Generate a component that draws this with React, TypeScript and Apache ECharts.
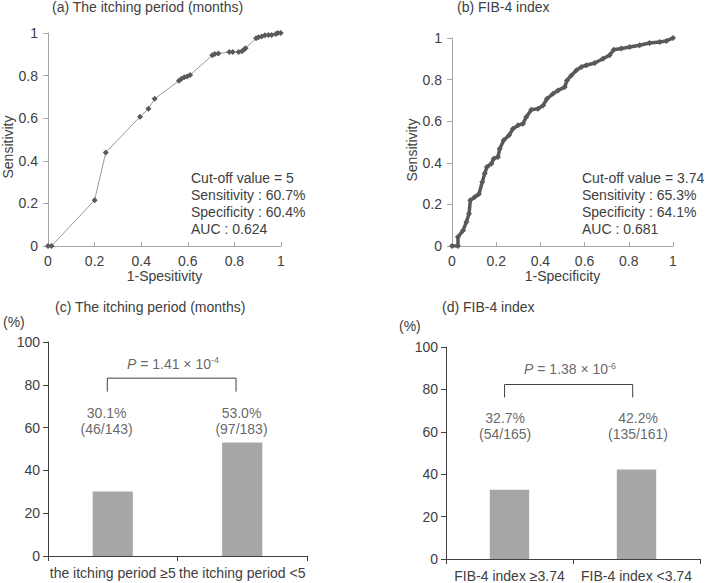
import React, { useEffect, useRef } from "react";
import * as echarts from "echarts";

// ---- Data ----
const rocAFpr = [0, 0.015, 0.2, 0.248, 0.395, 0.431, 0.458, 0.562, 0.573, 0.585, 0.597, 0.61, 0.705, 0.716, 0.731, 0.778, 0.793, 0.818, 0.832, 0.842, 0.848, 0.893, 0.903, 0.917, 0.931, 0.946, 0.96, 0.978, 0.986, 0.999];
const rocATpr = [0, 0, 0.215, 0.439, 0.607, 0.644, 0.691, 0.776, 0.785, 0.792, 0.796, 0.803, 0.895, 0.901, 0.904, 0.911, 0.911, 0.911, 0.914, 0.922, 0.928, 0.975, 0.98, 0.984, 0.989, 0.991, 0.991, 0.995, 1, 1];

const rocBFpr = [0, 0.027, 0.027, 0.05, 0.065, 0.077, 0.083, 0.103, 0.122, 0.137, 0.148, 0.158, 0.178, 0.189, 0.208, 0.216, 0.234, 0.258, 0.276, 0.299, 0.321, 0.336, 0.359, 0.389, 0.412, 0.43, 0.457, 0.48, 0.51, 0.52, 0.54, 0.563, 0.585, 0.608, 0.646, 0.683, 0.713, 0.732, 0.766, 0.804, 0.849, 0.894, 0.94, 0.97, 1];
const rocBTpr = [0, 0, 0.043, 0.075, 0.115, 0.155, 0.22, 0.235, 0.25, 0.308, 0.348, 0.38, 0.396, 0.42, 0.428, 0.468, 0.508, 0.532, 0.564, 0.58, 0.588, 0.62, 0.655, 0.66, 0.676, 0.708, 0.732, 0.748, 0.764, 0.796, 0.82, 0.845, 0.861, 0.869, 0.88, 0.9, 0.917, 0.944, 0.949, 0.957, 0.965, 0.976, 0.981, 0.986, 1];

const rocAStats = ["Cut-off value = 5", "Sensitivity : 60.7%", "Specificity : 60.4%", "AUC : 0.624"];
const rocBStats = ["Cut-off value = 3.74", "Sensitivity : 65.3%", "Specificity : 64.1%", "AUC : 0.681"];

const itchCategories = ["the itching period \u22655", "the itching period <5"];
const itchRates = [30.1, 53.0];
const itchCounts = ["46/143", "97/183"];
const itchP = ["1.41", "-4"];

const fibCategories = ["FIB-4 index \u22653.74", "FIB-4 index <3.74"];
const fibRates = [32.7, 42.2];
const fibCounts = ["54/165", "135/161"];
const fibP = ["1.38", "-6"];

const titles = ["(a) The itching period (months)", "(b) FIB-4 index", "(c) The itching period (months)", "(d) FIB-4 index"];

// ---- Styles ----
const TXT = "#404040";
const FONT = "'Liberation Sans', Arial, sans-serif";
const LIGHT_AXIS = "#a6a6a6";
const BAR = "#a6a6a6";

function zip(a: number[], b: number[]) {
  return a.map((v, i) => [v, b[i]]);
}

function rocX(gridIndex: number, name: string) {
  return {
    type: "value", gridIndex, min: 0, max: 1, interval: 0.2,
    name, nameLocation: "middle", nameGap: 21,
    nameTextStyle: { color: TXT, fontSize: 14, fontFamily: FONT },
    axisLine: { show: true, lineStyle: { color: LIGHT_AXIS, width: 1 } },
    axisTick: { show: true, inside: true, length: 4, lineStyle: { color: LIGHT_AXIS } },
    axisLabel: { color: TXT, fontSize: 14, margin: 8, fontFamily: FONT },
    splitLine: { show: false },
  };
}
function rocY(gridIndex: number) {
  return {
    type: "value", gridIndex, min: 0, max: 1, interval: 0.2,
    axisLine: { show: true, lineStyle: { color: LIGHT_AXIS, width: 1 } },
    axisTick: { show: true, inside: false, length: 5, lineStyle: { color: LIGHT_AXIS } },
    axisLabel: { color: TXT, fontSize: 14, margin: 10, fontFamily: FONT },
    splitLine: { show: false },
  };
}
function catX(gridIndex: number, data: string[]) {
  return {
    type: "category", gridIndex, data,
    axisLine: { show: true, lineStyle: { color: TXT, width: 1 } },
    axisTick: { show: true, length: 5, lineStyle: { color: TXT } },
    axisLabel: { color: TXT, fontSize: 14, margin: 10, interval: 0, fontFamily: FONT },
    splitLine: { show: false },
  };
}
function hiddenX(gridIndex: number) {
  return { type: "value", gridIndex, min: 0, max: 2, show: false, splitLine: { show: false } };
}
function pctY(gridIndex: number) {
  return {
    type: "value", gridIndex, min: 0, max: 100, interval: 20,
    axisLine: { show: true, lineStyle: { color: TXT, width: 1 } },
    axisTick: { show: true, length: 5, lineStyle: { color: TXT } },
    axisLabel: { color: TXT, fontSize: 14, margin: 8, fontFamily: FONT },
    splitLine: { show: false },
  };
}

function bracket(xAxisIndex: number, yAxisIndex: number, x0: number, x1: number, low: number, high: number) {
  return {
    type: "line", xAxisIndex, yAxisIndex, symbol: "none", silent: true,
    lineStyle: { color: TXT, width: 1 },
    data: [[x0, low], [x0, high], [x1, high], [x1, low]],
  };
}

function pctLabels(xAxisIndex: number, yAxisIndex: number, xs: number[], y: number, rates: number[], counts: string[]) {
  return {
    type: "scatter", xAxisIndex, yAxisIndex, symbolSize: 1, silent: true,
    itemStyle: { color: "rgba(0,0,0,0)" },
    label: {
      show: true, position: "inside", color: TXT, fontSize: 14, lineHeight: 16, fontFamily: FONT, align: "center",
      formatter: (p: any) => `${rates[p.dataIndex].toFixed(1)}%\n(${counts[p.dataIndex]})`,
    },
    data: xs.map((x) => [x, y]),
  };
}

function pLabel(xAxisIndex: number, yAxisIndex: number, x: number, y: number, pv: string[]) {
  return {
    type: "scatter", xAxisIndex, yAxisIndex, symbolSize: 1, silent: true,
    itemStyle: { color: "rgba(0,0,0,0)" },
    label: {
      show: true, position: "inside", color: TXT, fontSize: 14, fontFamily: FONT,
      formatter: `{i|P} = ${pv[0]} \u00d7 10{s|${pv[1]}}`,
      rich: {
        i: { fontStyle: "italic", fontSize: 14, color: TXT, fontFamily: FONT },
        s: { fontSize: 9, color: TXT, fontFamily: FONT, verticalAlign: "top", padding: [0, 0, 7, 0] },
      },
    },
    data: [[x, y]],
  };
}

function textEl(text: string, left: number, top: number, extra: any = {}) {
  return {
    type: "text", left, top,
    style: { text, fill: TXT, fontSize: 14, fontFamily: FONT, ...extra },
  };
}

export default function App() {
  const ref = useRef<HTMLDivElement>(null);
  useEffect(() => {
    if (!ref.current) return;
    const chart = echarts.init(ref.current, undefined, { renderer: "svg" });
    const option: any = {
      animation: false,
      backgroundColor: "#ffffff",
      textStyle: { fontFamily: FONT, color: TXT },
      grid: [
        { left: 48, top: 33, width: 233, height: 213 },
        { left: 452, top: 38, width: 221, height: 208 },
        { left: 48, top: 342, width: 259, height: 214 },
        { left: 446, top: 347, width: 254, height: 212 },
      ],
      xAxis: [
        rocX(0, "1-Spesitivity"),
        rocX(1, "1-Specificity"),
        catX(2, itchCategories),
        hiddenX(2),
        catX(3, fibCategories),
        hiddenX(3),
      ],
      yAxis: [rocY(0), rocY(1), pctY(2), pctY(3)],
      series: [
        {
          type: "line", xAxisIndex: 0, yAxisIndex: 0, data: zip(rocAFpr, rocATpr),
          symbol: "diamond", symbolSize: 6, showAllSymbol: true,
          lineStyle: { color: "#999999", width: 1 },
          itemStyle: { color: "#595959" },
        },
        {
          type: "line", xAxisIndex: 1, yAxisIndex: 1, data: zip(rocBFpr, rocBTpr),
          symbol: "diamond", symbolSize: 6, showAllSymbol: true,
          lineStyle: { color: "#595959", width: 3.5 },
          itemStyle: { color: "#595959" },
        },
        {
          type: "bar", xAxisIndex: 2, yAxisIndex: 2, data: itchRates, barWidth: "31%",
          itemStyle: { color: BAR },
        },
        {
          type: "bar", xAxisIndex: 4, yAxisIndex: 3, data: fibRates, barWidth: "31%",
          itemStyle: { color: BAR },
        },
        bracket(3, 2, 0.458, 1.452, 76.8, 83.1),
        bracket(5, 3, 0.461, 1.47, 76.2, 82.3),
        pctLabels(3, 2, [0.453, 1.494], 63.1, itchRates, itchCounts),
        pctLabels(5, 3, [0.466, 1.512], 62.7, fibRates, fibCounts),
        pLabel(3, 2, 0.965, 89.8, itchP),
        pLabel(5, 3, 0.977, 89.6, fibP),
      ],
      graphic: [
        textEl(titles[0], 52, 0),
        textEl(titles[1], 457, 0),
        textEl(titles[2], 55, 300),
        textEl(titles[3], 442, 300),
        textEl("(%)", 3, 315),
        textEl("(%)", 399, 319),
        textEl(rocAStats.join("\n"), 191, 169, { lineHeight: 17 }),
        textEl(rocBStats.join("\n"), 582, 169, { lineHeight: 17 }),
        {
          type: "text", x: 8, y: 147, rotation: Math.PI / 2,
          style: { text: "Sensitivity", fill: TXT, fontSize: 14, fontFamily: FONT, align: "center", verticalAlign: "middle" },
        },
        {
          type: "text", x: 412, y: 150, rotation: Math.PI / 2,
          style: { text: "Sensitivity", fill: TXT, fontSize: 14, fontFamily: FONT, align: "center", verticalAlign: "middle" },
        },
      ],
    };
    chart.setOption(option);
    return () => chart.dispose();
  }, []);
  return (
    <div
      ref={ref}
      style={{ position: "fixed", left: 0, top: 0, width: 709, height: 583, background: "#fff" }}
    />
  );
}
